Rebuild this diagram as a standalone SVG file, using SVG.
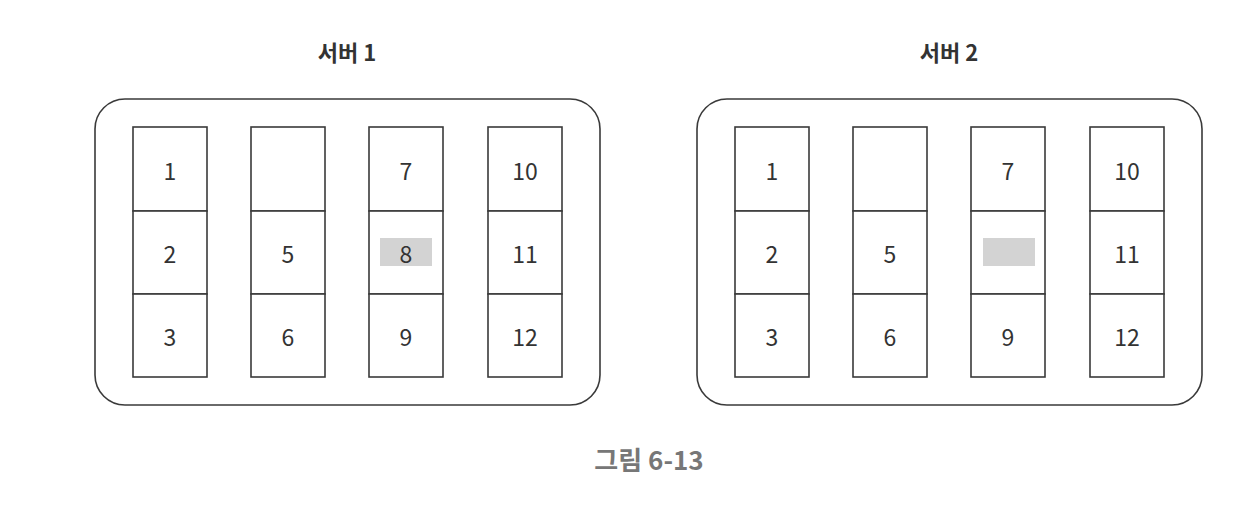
<svg xmlns="http://www.w3.org/2000/svg" width="1254" height="512" viewBox="0 0 1254 512">
<style>
.bg{fill:#ffffff}
.srv{fill:none;stroke:#3a3a3a;stroke-width:1.6}
.cell{fill:#ffffff;stroke:#3a3a3a;stroke-width:1.6}
.hl{fill:#d3d3d3}
.num{font-family:"Noto Sans CJK KR","Noto Sans",sans-serif;font-size:23px;fill:#333;text-anchor:middle;dominant-baseline:central}
.title{font-family:"Noto Sans CJK KR","Noto Sans",sans-serif;font-size:22px;font-weight:bold;fill:#333;text-anchor:middle}
.cap{font-family:"Noto Sans CJK KR","Noto Sans",sans-serif;font-size:26px;font-weight:bold;fill:#777;text-anchor:middle}
</style>
<defs>
<g id="col">
<rect class="cell" x="0" y="0" width="74" height="84"/>
<rect class="cell" x="0" y="84" width="74" height="83"/>
<rect class="cell" x="0" y="167" width="74" height="83"/>
</g>
</defs>
<rect class="bg" x="0" y="0" width="1254" height="512"/>
<g id="server1">
<text class="title" x="347" y="61">서버 1</text>
<rect class="srv" x="95" y="99" width="505" height="306" rx="30"/>
<use href="#col" x="133" y="127"/>
<use href="#col" x="251" y="127"/>
<use href="#col" x="369" y="127"/>
<use href="#col" x="488" y="127"/>
<rect class="hl" x="380" y="238" width="52" height="28"/>
<text class="num" x="170" y="170">1</text>
<text class="num" x="170" y="253">2</text>
<text class="num" x="170" y="336">3</text>
<text class="num" x="288" y="253">5</text>
<text class="num" x="288" y="336">6</text>
<text class="num" x="406" y="170">7</text>
<text class="num" x="406" y="253">8</text>
<text class="num" x="406" y="336">9</text>
<text class="num" x="525" y="170">10</text>
<text class="num" x="525" y="253">11</text>
<text class="num" x="525" y="336">12</text>
</g>
<g id="server2">
<text class="title" x="949" y="61">서버 2</text>
<rect class="srv" x="697" y="99" width="505" height="306" rx="30"/>
<use href="#col" x="735" y="127"/>
<use href="#col" x="853" y="127"/>
<use href="#col" x="971" y="127"/>
<use href="#col" x="1090" y="127"/>
<rect class="hl" x="983" y="238" width="52" height="28"/>
<text class="num" x="772" y="170">1</text>
<text class="num" x="772" y="253">2</text>
<text class="num" x="772" y="336">3</text>
<text class="num" x="890" y="253">5</text>
<text class="num" x="890" y="336">6</text>
<text class="num" x="1008" y="170">7</text>
<text class="num" x="1008" y="336">9</text>
<text class="num" x="1127" y="170">10</text>
<text class="num" x="1127" y="253">11</text>
<text class="num" x="1127" y="336">12</text>
</g>
<text class="cap" x="649" y="470">그림 6-13</text>
</svg>
